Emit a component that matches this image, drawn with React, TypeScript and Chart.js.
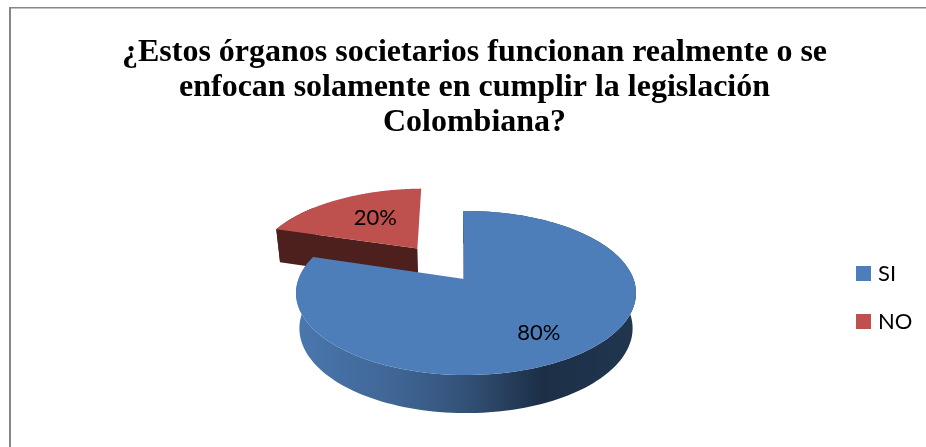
import { useEffect, useRef } from "react";
import { Chart, registerables } from "chart.js";

Chart.register(...registerables);

const categories = ["SI", "NO"];
const shares = [80, 20];
const faceColors = ["#4e7eb9", "#be504d"];
const titleLines = [
  "¿Estos órganos societarios funcionan realmente o se",
  "enfocan solamente en cumplir la legislación",
  "Colombiana?",
];

// Tilted-disc projection of the pie plane.
const DISC = { cx: 466, cy: 279, sx: 167.5, sy: 79.6, k: 0.171, depth: 34.8, depthK: 0.13, shrink: 0.02 };
const SLICE_EXPLODE = [0, 0.514];
const LABEL_RADIUS = [0.72, 0.57];
const LABEL_NUDGE = [[-8, 3], [5, -1]];
const HUB_SHIFT = [-2, 0];
const KEY = { x: 856, textX: 878, size: 15, firstY: 273.5, step: 48 };

type Pt = [number, number];

function project(u: number, v: number, z: number): Pt {
  const w = 1 - DISC.k * v;
  const scale = 1 - DISC.shrink * z;
  return [
    DISC.cx + (DISC.sx * u * scale) / w,
    DISC.cy + (DISC.sy * v * scale) / w + (z * DISC.depth) / (1 - DISC.depthK * v),
  ];
}

function tracePolygon(ctx: CanvasRenderingContext2D, pts: Pt[]) {
  ctx.beginPath();
  pts.forEach(([x, y], i) => (i ? ctx.lineTo(x, y) : ctx.moveTo(x, y)));
  ctx.closePath();
}

const tiltedPie = {
  id: "tiltedPie",
  beforeDatasetsDraw(chart: any) {
    const ctx: CanvasRenderingContext2D = chart.ctx;
    const arcs = chart.getDatasetMeta(0).data;
    const sideFill = ctx.createLinearGradient(297, 0, 636, 0);
    sideFill.addColorStop(0, "#4a77ae");
    sideFill.addColorStop(0.3, "#3f6594");
    sideFill.addColorStop(0.5, "#335177");
    sideFill.addColorStop(0.72, "#1c2f47");
    sideFill.addColorStop(1, "#20364f");

    // The exploded slice goes first so the large one overlaps it.
    [1, 0].forEach((i) => {
      const arc = arcs[i];
      const start = arc.startAngle;
      const end = arc.endAngle;
      const mid = (start + end) / 2;
      const ox = Math.cos(mid) * SLICE_EXPLODE[i];
      const oy = Math.sin(mid) * SLICE_EXPLODE[i];
      const steps = 160;
      const rim = (z: number) => {
        const out: Pt[] = [];
        for (let s = 0; s <= steps; s++) {
          const a = start + ((end - start) * s) / steps;
          out.push(project(ox + Math.cos(a), oy + Math.sin(a), z));
        }
        return out;
      };
      const hub = (z: number): Pt => {
        const [x, y] = project(ox, oy, z);
        return [x + HUB_SHIFT[i], y];
      };
      const top = rim(0);
      const bottom = rim(1);

      if (i === 0) {
        ctx.fillStyle = sideFill;
        tracePolygon(ctx, [...top, ...bottom.slice().reverse()]);
        ctx.fill();
        ctx.fillStyle = "#1f3550";
        tracePolygon(ctx, [hub(0), top[0], bottom[0], hub(1)]);
        ctx.fill();
      } else {
        // Only the front corner of the rear slice shows any wall.
        const corner = Math.floor(steps / 3);
        ctx.fillStyle = "#4d1f1d";
        tracePolygon(ctx, [...top.slice(0, corner), ...bottom.slice(0, corner).reverse()]);
        ctx.fill();
        tracePolygon(ctx, [hub(0), top[0], bottom[0], hub(1)]);
        ctx.fill();
      }

      ctx.fillStyle = faceColors[i];
      tracePolygon(ctx, [hub(0), ...top]);
      ctx.fill();
    });

    ctx.fillStyle = "#000000";
    ctx.font = "22px Lato";
    ctx.textAlign = "center";
    ctx.textBaseline = "middle";
    arcs.forEach((arc: any, i: number) => {
      const mid = (arc.startAngle + arc.endAngle) / 2;
      const r = LABEL_RADIUS[i];
      const [x, y] = project(
        Math.cos(mid) * (SLICE_EXPLODE[i] + r),
        Math.sin(mid) * (SLICE_EXPLODE[i] + r),
        0,
      );
      ctx.fillText(`${shares[i]}%`, x + LABEL_NUDGE[i][0], y + LABEL_NUDGE[i][1]);
    });
    return false;
  },
  afterDraw(chart: any) {
    // Colour key at the right of the pie.
    const ctx: CanvasRenderingContext2D = chart.ctx;
    ctx.save();
    ctx.font = "22px Lato";
    ctx.textAlign = "left";
    ctx.textBaseline = "middle";
    categories.forEach((name, i) => {
      const y = KEY.firstY + KEY.step * i;
      ctx.fillStyle = faceColors[i];
      ctx.fillRect(KEY.x, y - KEY.size / 2, KEY.size, KEY.size);
      ctx.fillStyle = "#000000";
      ctx.fillText(name, KEY.textX, y);
    });
    ctx.restore();
  },
};

const frame = {
  id: "frame",
  beforeDraw(chart: any) {
    const ctx: CanvasRenderingContext2D = chart.ctx;
    ctx.save();
    ctx.fillStyle = "#868686";
    ctx.fillRect(9, 7, 2, chart.height - 7);
    ctx.fillRect(9, 7, chart.width - 9, 1.5);
    ctx.restore();
  },
};

export default function App() {
  const canvasRef = useRef<HTMLCanvasElement>(null);

  useEffect(() => {
    const chart = new Chart(canvasRef.current!, {
      type: "pie",
      data: {
        labels: categories,
        datasets: [{ data: shares, backgroundColor: faceColors, borderWidth: 0 }],
      },
      options: {
        animation: false,
        responsive: false,
        rotation: -1.2,
        layout: { padding: { left: 23, right: 0, top: 35, bottom: 0 } },
        plugins: {
          title: {
            display: true,
            text: titleLines,
            color: "#000000",
            font: { family: "'Liberation Serif'", size: 32, weight: "bold", lineHeight: 1.094 },
            padding: { top: 0, bottom: 12 },
          },
          legend: { display: false },
          tooltip: { enabled: false },
        },
      },
      plugins: [frame, tiltedPie],
    } as any);
    return () => chart.destroy();
  }, []);

  return (
    <div style={{ position: "fixed", left: 0, top: 0, width: 926, height: 447, background: "#ffffff" }}>
      <canvas ref={canvasRef} width={926} height={447} style={{ display: "block" }} />
    </div>
  );
}
